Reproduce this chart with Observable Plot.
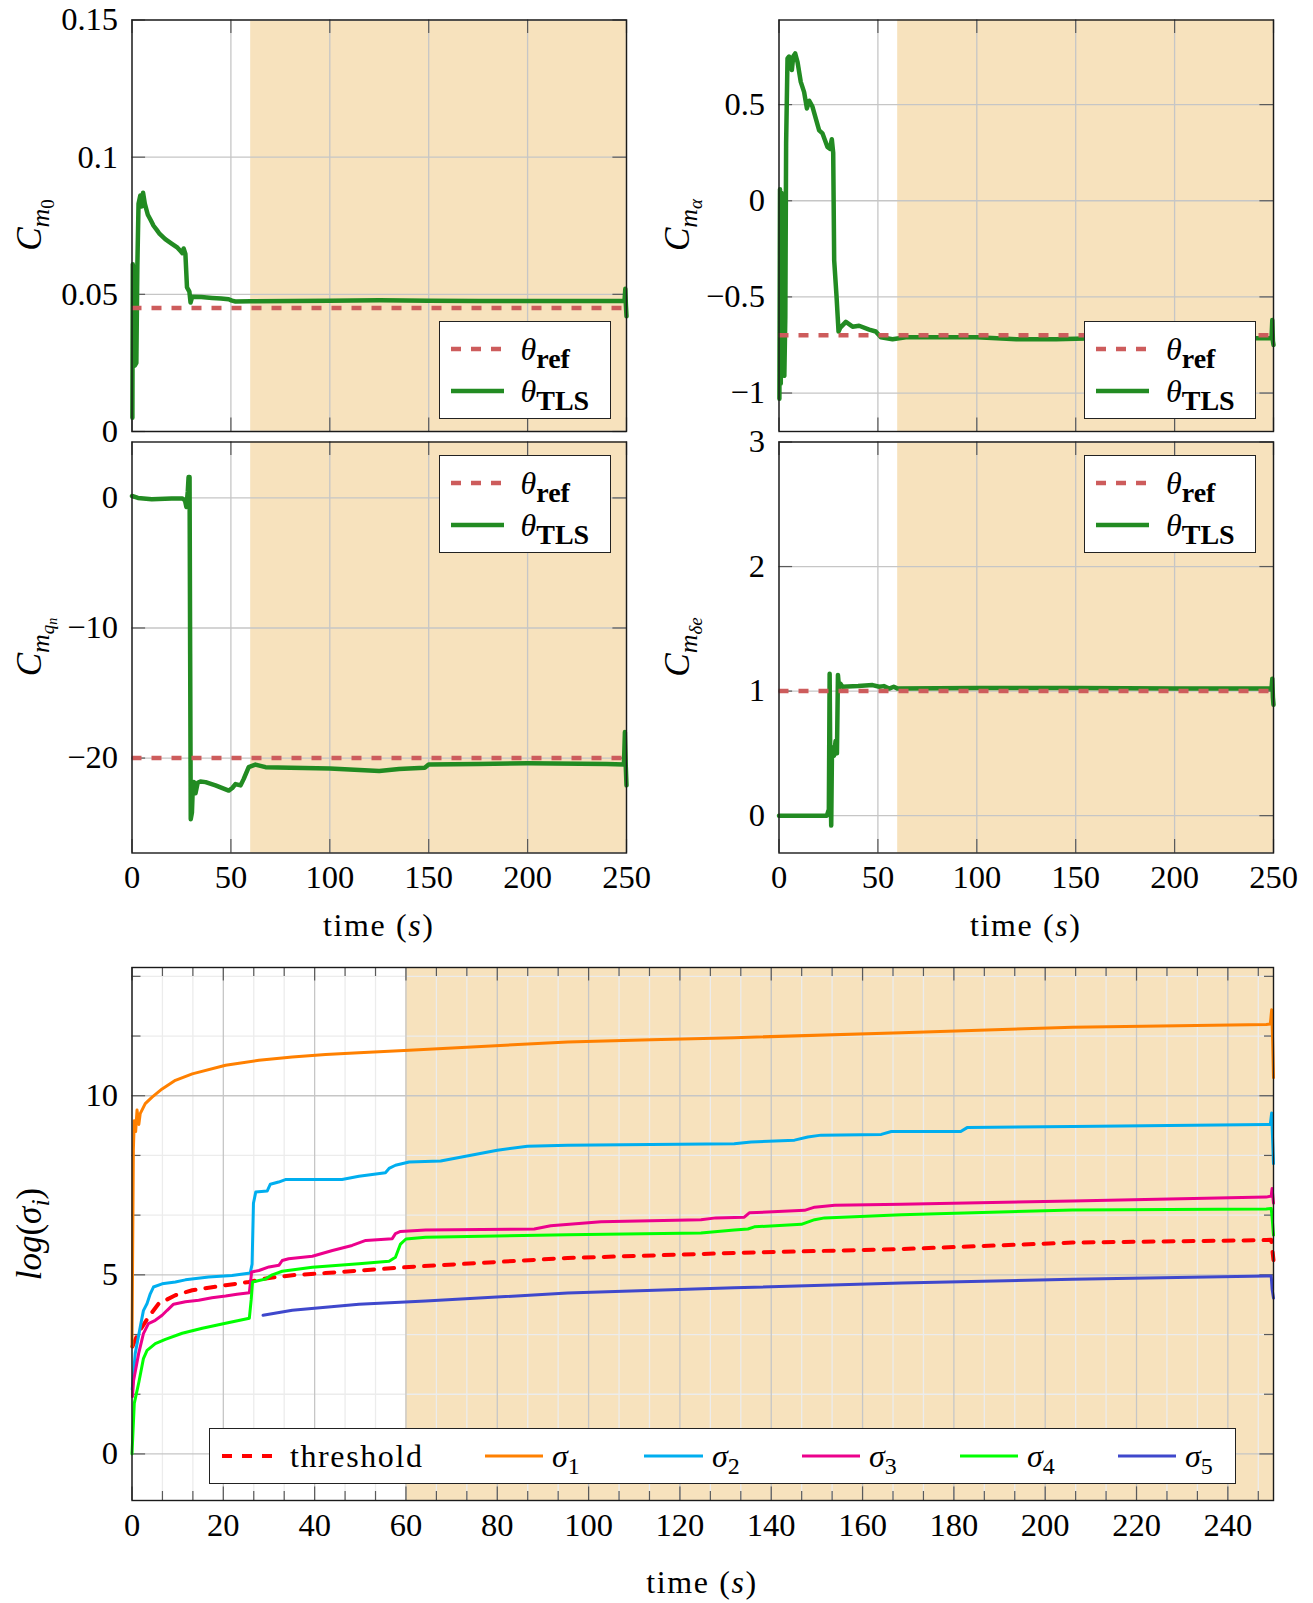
<!DOCTYPE html>
<html><head><meta charset="utf-8">
<script src="https://cdn.jsdelivr.net/npm/d3@7"></script>
<script src="https://cdn.jsdelivr.net/npm/@observablehq/plot@0.6"></script>
<style>
body{margin:0;background:#fff;}
#wrap{position:relative;width:1313px;height:1603px;color:#000;overflow:hidden;}
.panel{position:absolute;}
.panel svg{overflow:visible;max-width:none;}
.lab{position:absolute;font-size:32px;white-space:nowrap;line-height:1;}
.ctr{transform:translate(-50%,-50%);}
.ylab{transform:translate(-50%,-50%) rotate(-90deg);font-size:35px;}
.s1{font-size:26px;position:relative;top:8px;}
.s2{font-size:19px;position:relative;top:5px;}
.s3{font-size:14px;position:relative;top:3px;}
.lbox{position:absolute;background:#fff;border:1.5px solid #222;box-sizing:border-box;}
.sub{font-size:24px;position:relative;top:7px;}
.bsub{font-size:28px;font-weight:bold;position:relative;top:8px;}
.wide{letter-spacing:1.6px;}
svg.samp{position:absolute;overflow:visible;}
</style></head>
<body><div id="wrap"></div>
<script>
// ---------- data ----------
const timeShade = [60, 250];            // shaded time window (s)

const cm0Ref = 0.045;
const cm0TLS = [[0.2,0.005],[0.4,0.061],[0.6,0.03],[0.9,0.06],[1.2,0.035],[1.4,0.024],[2.2,0.025],[2.7,0.06],[3.3,0.083],[4.2,0.086],[4.8,0.082],[5.6,0.087],[6.5,0.083],[8,0.079],[9.5,0.077],[10.9,0.075],[12.5,0.0735],[14,0.072],[16.8,0.0701],[20,0.0685],[23,0.067],[24.4,0.0659],[25.5,0.065],[26.1,0.0667],[27,0.0647],[27.8,0.0525],[29,0.051],[29.6,0.047],[30.4,0.0491],[35,0.049],[40.5,0.0487],[45,0.0485],[48.9,0.0482],[50.5,0.0477],[52.3,0.0474],[60,0.0475],[80,0.0476],[100,0.0477],[125,0.0478],[150,0.0477],[175,0.0476],[200,0.0476],[225,0.0476],[249,0.0476],[249.4,0.052],[249.7,0.046],[250,0.042]];

const cmaRef = -0.7;
const cmaTLS = [[0.2,-1.03],[0.5,0.06],[0.9,-0.95],[1.3,0.04],[1.8,-0.9],[2.7,-0.91],[3.2,-0.6],[3.6,0.3],[4.3,0.74],[5.1,0.75],[5.8,0.70],[6.5,0.68],[7.2,0.75],[8.2,0.766],[9.4,0.72],[11,0.618],[12.7,0.565],[14.1,0.48],[15.3,0.52],[16.9,0.49],[20.3,0.366],[22,0.35],[24.5,0.28],[25.7,0.27],[26.7,0.32],[27.4,0.25],[27.9,-0.31],[29.1,-0.5],[30.1,-0.68],[31,-0.66],[33.8,-0.63],[37.2,-0.655],[40.5,-0.65],[45.6,-0.67],[48.9,-0.68],[51.5,-0.71],[57.4,-0.72],[64.1,-0.71],[100,-0.71],[120,-0.72],[140,-0.72],[160,-0.715],[200,-0.715],[249,-0.715],[249.4,-0.62],[249.7,-0.73],[250,-0.75]];

const cmqRef = -20;
const cmqTLS = [[0,0.15],[3,0],[10,-0.1],[20,-0.05],[25.5,-0.05],[26.8,-0.2],[27.5,-0.7],[28.2,0.5],[28.6,1.6],[29.1,1.6],[29.4,-12],[29.7,-24.7],[30.3,-24.2],[30.8,-22.0],[31.3,-21.84],[32.1,-22.7],[33.2,-21.9],[34.6,-21.8],[37.2,-21.85],[42.2,-22.1],[48.9,-22.5],[50.7,-22.3],[52.3,-22.0],[54.9,-22.1],[56.5,-21.6],[59,-20.7],[62.4,-20.5],[67.5,-20.7],[80,-20.75],[100,-20.8],[125,-21.0],[135,-20.85],[140,-20.8],[148,-20.75],[150,-20.5],[175,-20.45],[200,-20.4],[240,-20.45],[248.7,-20.5],[249.2,-18.0],[249.6,-20.5],[250,-22.1]];

const cmdRef = 1;
const cmdTLS = [[0,0],[10,0],[24.2,0],[25.2,0.05],[25.6,1.14],[26.0,0.3],[26.4,-0.08],[26.8,0.55],[27.8,0.48],[28.6,0.6],[29.3,0.5],[29.8,1.13],[30.4,1.02],[31,1.06],[32.1,1.035],[40,1.04],[47.3,1.048],[50.7,1.035],[53,1.04],[55.7,1.02],[58,1.035],[60,1.02],[100,1.025],[150,1.025],[200,1.02],[249,1.02],[249.4,1.1],[249.7,0.95],[250,0.89]];

const threshold = [[0.1,3.0],[1.1,3.3],[2,3.5],[3.6,3.82],[5.8,4.19],[9.5,4.43],[13.2,4.57],[20.5,4.71],[25.6,4.8],[29.3,4.9],[35.1,4.99],[42.4,5.05],[49.7,5.12],[60.7,5.22],[95.4,5.47],[131.9,5.61],[168.5,5.72],[206,5.9],[248.4,5.97],[249.5,5.98],[250,5.41]];
const sigma1 = [[0,3.0],[0.3,8.5],[0.5,9.3],[0.8,9.0],[1.1,9.6],[1.5,9.2],[1.8,9.5],[2.9,9.78],[4.4,9.96],[6.6,10.19],[9.5,10.43],[13.2,10.61],[20.5,10.85],[27.8,10.99],[35.1,11.08],[42.4,11.15],[49.7,11.2],[60.7,11.27],[95.4,11.5],[113.7,11.56],[131.9,11.62],[168.5,11.76],[206,11.91],[248.4,11.99],[249.3,12.0],[249.6,12.4],[249.8,11.6],[250,10.5]];
const sigma2 = [[0.05,1.8],[0.7,2.8],[1.8,3.54],[2.5,4.0],[3.3,4.2],[4.0,4.47],[4.7,4.66],[6.6,4.75],[9.5,4.8],[11.7,4.86],[16.8,4.94],[21.9,4.98],[25.9,5.05],[26.3,5.3],[26.6,7.0],[27.1,7.31],[29.6,7.34],[30.3,7.53],[32.1,7.59],[33.6,7.66],[46,7.66],[49.7,7.75],[55.5,7.85],[56.3,7.97],[57.7,8.06],[60.7,8.15],[67.6,8.18],[80,8.48],[86.6,8.59],[95.4,8.62],[131.9,8.66],[135.6,8.71],[145.1,8.76],[148,8.85],[150.9,8.9],[164.1,8.92],[166.3,9.0],[181.5,9.0],[182.9,9.11],[206,9.14],[248.4,9.2],[249.3,9.2],[249.6,9.52],[249.8,8.8],[250,8.1]];
const sigma3 = [[0.1,1.6],[0.35,2.05],[1.45,2.8],[2.5,3.36],[3.6,3.64],[5.1,3.73],[6.6,3.87],[7.7,4.01],[9.1,4.18],[11.7,4.25],[14.6,4.29],[17.5,4.36],[20.5,4.41],[23,4.46],[25.7,4.5],[26.2,5.08],[27.8,5.12],[30,5.22],[32.2,5.27],[32.9,5.4],[34.3,5.45],[39.5,5.52],[43.9,5.68],[48.2,5.82],[51.2,5.96],[57,6.01],[57.7,6.15],[58.8,6.21],[64.3,6.25],[88.1,6.28],[91.7,6.37],[102.7,6.48],[124.6,6.54],[127.9,6.59],[134.1,6.61],[135.2,6.73],[147.3,6.8],[149.5,6.89],[153.9,6.94],[168.5,6.97],[206,7.06],[248.4,7.17],[249.5,7.2],[249.7,7.41],[250,7.0]];
const sigma4 = [[0,0.0],[0.5,1.41],[1.5,2.0],[2.5,2.66],[3.3,2.89],[5.1,3.08],[7.3,3.2],[11,3.37],[15.4,3.51],[20.5,3.65],[25.7,3.79],[26.1,4.3],[26.4,4.8],[27.8,4.84],[29.2,4.88],[30.7,5.0],[32.9,5.1],[39.5,5.21],[49.7,5.31],[56.3,5.38],[57.7,5.49],[58.8,5.86],[60,6.0],[64.3,6.05],[95.4,6.12],[124.6,6.17],[131.9,6.25],[134.9,6.28],[136.3,6.34],[146.6,6.41],[149.5,6.54],[151.7,6.59],[168.5,6.68],[206,6.81],[248.4,6.84],[249.5,6.85],[249.7,6.6],[250,6.11]];
const sigma5 = [[28.7,3.87],[35.1,4.01],[49.7,4.18],[64.3,4.27],[95.4,4.49],[131.9,4.64],[168.5,4.77],[206,4.88],[248.4,4.97],[249.5,4.97],[249.7,4.6],[250,4.35]];

// ticks
const xTicksTop = [0, 50, 100, 150, 200, 250];
const xTicksSigma = [0, 20, 40, 60, 80, 100, 120, 140, 160, 180, 200, 220, 240];
const yTicksCm0 = [0, 0.05, 0.1, 0.15];
const yTicksCma = [-1, -0.5, 0, 0.5];
const yTicksCmq = [-20, -10, 0];
const yTicksCmd = [0, 1, 2, 3];
const yTicksSigma = [0, 5, 10];

// ---------- font detection (pick first installed serif) ----------
function fontAvailable(name) {
  const ctx = document.createElement("canvas").getContext("2d");
  const s = "mmmmmmmmmwwwwlli0123456789threshold";
  let diff = false;
  for (const base of ["monospace", "sans-serif", "serif"]) {
    ctx.font = "72px " + base; const w0 = ctx.measureText(s).width;
    ctx.font = `72px "${name}", ${base}`; const w1 = ctx.measureText(s).width;
    if (Math.abs(w1 - w0) > 0.5) diff = true;
  }
  return diff;
}
const serifCandidates = ["Liberation Serif", "DejaVu Serif", "Noto Serif", "Times New Roman", "FreeSerif", "Tinos"];
const chosen = serifCandidates.find(fontAvailable) || "serif";
const FONT = chosen === "serif" ? "serif" : `"${chosen}", serif`;
document.getElementById("wrap").style.fontFamily = FONT;

// ---------- styling ----------
const SHADE = "#F7E2BD", GRID = "#c6c6c6", MINOR = "#ececec", TICK = "#5a5a5a";
const GREEN = "#228B22", REFC = "#CD5C5C";
const SIGC = ["#FF8000", "#00AEEF", "#EC008C", "#00FF00", "#3F48CC"];
const fmt = d => (d < 0 ? "\u2212" + String(+(-d).toFixed(4)) : String(+d.toFixed(4)));
const minorOf = (ticks, lo, hi) => {
  const step = ticks[1] - ticks[0], out = [];
  for (let i = -1; i < ticks.length; i++) {
    const b = ticks[0] + i * step;
    [b + step / 3, b + 2 * step / 3].forEach(v => { if (v > lo && v < hi) out.push(v); });
  }
  return out;
};

const wrap = document.getElementById("wrap");

function panel(o) {
  const fw = o.fx1 - o.fx0, fh = o.fy1 - o.fy0;
  const T = 13.6, t = 9;
  const marks = [Plot.rect([timeShade], {x1: d => d[0], x2: d => d[1], fill: SHADE})];
  if (o.xMinor) marks.push(Plot.ruleX(o.xMinor, {stroke: MINOR, strokeWidth: 1.3}));
  if (o.yMinor) marks.push(Plot.ruleY(o.yMinor, {stroke: MINOR, strokeWidth: 1.3}));
  marks.push(Plot.ruleX(o.xTicks, {stroke: GRID, strokeWidth: 1.3}));
  marks.push(Plot.ruleY(o.yTicks, {stroke: GRID, strokeWidth: 1.3}));
  const tickSet = (xs, ys, len) => [
    Plot.tickX(xs, {x: d => d, stroke: TICK, strokeWidth: 1.2, insetBottom: fh - len}),
    Plot.tickX(xs, {x: d => d, stroke: TICK, strokeWidth: 1.2, insetTop: fh - len}),
    Plot.tickY(ys, {y: d => d, stroke: TICK, strokeWidth: 1.2, insetRight: fw - len}),
    Plot.tickY(ys, {y: d => d, stroke: TICK, strokeWidth: 1.2, insetLeft: fw - len})
  ];
  marks.push(...tickSet(o.xTicks, o.yTicks, T));
  if (o.xMinor) marks.push(...tickSet(o.xMinor, o.yMinor, t));
  marks.push(...o.lines);
  marks.push(Plot.frame({stroke: "#1a1a1a", strokeWidth: 1.4}));
  const svg = Plot.plot({
    width: o.width, height: o.height,
    marginLeft: o.fx0, marginRight: o.width - o.fx1, marginTop: o.fy0, marginBottom: o.height - o.fy1,
    x: {domain: [0, 250], ticks: o.showX ? o.xTicks : [], tickSize: 0, tickPadding: 12, tickFormat: fmt, label: null, axis: o.showX ? "bottom" : null},
    y: {domain: o.yDomain, ticks: o.yTicks, tickSize: 0, tickPadding: 14, tickFormat: fmt, label: null},
    style: {background: "transparent", overflow: "visible", fontFamily: FONT, fontSize: "32.5px", color: "#000", maxWidth: "none"},
    marks
  });
  svg.querySelectorAll("text").forEach(t => { t.style.fontFamily = FONT; });
  const div = document.createElement("div");
  div.className = "panel";
  div.style.left = o.left + "px"; div.style.top = o.top + "px";
  div.style.width = o.width + "px"; div.style.height = o.height + "px";
  div.appendChild(svg);
  wrap.appendChild(div);
}

const xy = {x: d => d[0], y: d => d[1]};
const tlsLines = (tls, ref) => [
  Plot.line(tls, {...xy, stroke: GREEN, strokeWidth: 4.5, strokeLinejoin: "round"}),
  Plot.ruleY([ref], {stroke: REFC, strokeWidth: 4.5, strokeDasharray: "10,10"})
];

panel({left: 0, top: 0, width: 650, height: 445, fx0: 131.5, fx1: 626, fy0: 19.5, fy1: 431,
  yDomain: [0, 0.15], yTicks: yTicksCm0, xTicks: xTicksTop, showX: false, lines: tlsLines(cm0TLS, cm0Ref)});
panel({left: 650, top: 0, width: 663, height: 445, fx0: 128.5, fx1: 623, fy0: 19.5, fy1: 431,
  yDomain: [-1.2, 0.94], yTicks: yTicksCma, xTicks: xTicksTop, showX: false, lines: tlsLines(cmaTLS, cmaRef)});
panel({left: 0, top: 436, width: 650, height: 470, fx0: 131.5, fx1: 626, fy0: 5.5, fy1: 416.5,
  yDomain: [-27.3, 4.3], yTicks: yTicksCmq, xTicks: xTicksTop, showX: true, lines: tlsLines(cmqTLS, cmqRef)});
panel({left: 650, top: 436, width: 663, height: 470, fx0: 128.5, fx1: 623, fy0: 5.5, fy1: 416.5,
  yDomain: [-0.3, 3], yTicks: yTicksCmd, xTicks: xTicksTop, showX: true, lines: tlsLines(cmdTLS, cmdRef)});

const sigmaSeries = [sigma1, sigma2, sigma3, sigma4, sigma5];
panel({left: 0, top: 950, width: 1313, height: 600, fx0: 131.5, fx1: 1273, fy0: 17, fy1: 550,
  yDomain: [-1.3, 13.58], yTicks: yTicksSigma, xTicks: xTicksSigma, showX: true,
  xMinor: minorOf(xTicksSigma, 0, 250), yMinor: minorOf(yTicksSigma, -1.3, 13.58),
  lines: [
    Plot.line(threshold, {...xy, stroke: "#FF0000", strokeWidth: 4, strokeDasharray: "10,10"}),
    ...sigmaSeries.map((s, i) => Plot.line(s, {...xy, stroke: SIGC[i], strokeWidth: 3, strokeLinejoin: "round"}))
  ]});

// ---------- labels ----------
function addLab(cls, x, y, html) {
  const d = document.createElement("div");
  d.className = "lab " + cls;
  d.style.left = x + "px"; d.style.top = y + "px";
  d.style.fontFamily = FONT;
  d.innerHTML = html;
  wrap.appendChild(d);
}
addLab("ylab", 29, 225, `<i>C</i><span class="s1"><i>m</i><span class="s2">0</span></span>`);
addLab("ylab", 677, 225, `<i>C</i><span class="s1"><i>m</i><span class="s2"><i>α</i></span></span>`);
addLab("ylab", 29, 647, `<i>C</i><span class="s1"><i>m</i><span class="s2"><i>q</i><span class="s3"><i>n</i></span></span></span>`);
addLab("ylab", 677, 647, `<i>C</i><span class="s1"><i>m</i><span class="s2"><i>δe</i></span></span>`);
addLab("ylab", 29, 1234, `<i>log</i>(<i>σ</i><span class="s1"><i>i</i></span>)`);
addLab("ctr wide", 378.75, 925, `time (<i>s</i>)`);
addLab("ctr wide", 1025.75, 925, `time (<i>s</i>)`);
addLab("ctr wide", 702, 1582, `time (<i>s</i>)`);

// ---------- legends ----------
function sample(x1, x2, y, color, w, dash) {
  const ns = "http://www.w3.org/2000/svg";
  const s = document.createElementNS(ns, "svg");
  s.setAttribute("class", "samp");
  s.setAttribute("width", x2 - x1); s.setAttribute("height", 10);
  s.style.left = x1 + "px"; s.style.top = (y - 5) + "px";
  const l = document.createElementNS(ns, "line");
  l.setAttribute("x1", 0); l.setAttribute("x2", x2 - x1);
  l.setAttribute("y1", 5); l.setAttribute("y2", 5);
  l.setAttribute("stroke", color); l.setAttribute("stroke-width", w);
  if (dash) l.setAttribute("stroke-dasharray", dash);
  s.appendChild(l);
  wrap.appendChild(s);
}
function legendText(x, y, html, cls) {
  const d = document.createElement("div");
  d.className = "lab" + (cls ? " " + cls : "");
  d.style.left = x + "px"; d.style.top = (y - 16) + "px";
  d.style.fontFamily = FONT;
  d.innerHTML = html;
  wrap.appendChild(d);
}
function box(x, y, w, h) {
  const d = document.createElement("div");
  d.className = "lbox";
  Object.assign(d.style, {left: x + "px", top: y + "px", width: w + "px", height: h + "px"});
  wrap.appendChild(d);
}
const paramLegends = [[438.5, 320.5], [1084, 320.5], [438.5, 454.5], [1084, 454.5]];
paramLegends.forEach(([bx, by]) => {
  box(bx, by, 172, 98);
  sample(bx + 12, bx + 65, by + 28, REFC, 4.5, "10,10");
  sample(bx + 12, bx + 65, by + 70, GREEN, 4.5, null);
  legendText(bx + 82, by + 28, `<i>θ</i><span class="bsub">ref</span>`);
  legendText(bx + 82, by + 70, `<i>θ</i><span class="bsub">TLS</span>`);
});

box(209, 1428, 1027, 56);
const ly = 1456;
sample(222, 276, ly, "#FF0000", 4, "10,10");
legendText(290, ly, "threshold", "wide");
const sigLeg = [[485, 543, 552], [644, 703, 712], [802, 860, 869], [960, 1018, 1027], [1118, 1176, 1185]];
sigLeg.forEach(([a, b, tx], i) => {
  sample(a, b, ly, SIGC[i], 3, null);
  legendText(tx, ly, `<i>σ</i><span class="sub">${i + 1}</span>`);
});
</script></body></html>
